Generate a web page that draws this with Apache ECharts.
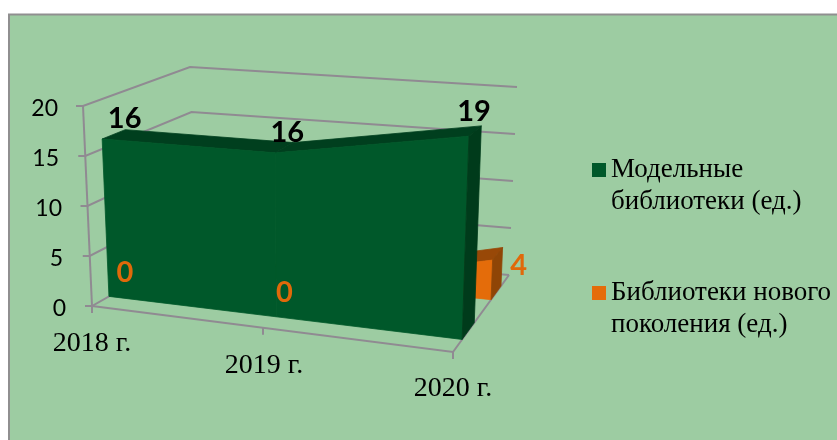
<!DOCTYPE html>
<html><head><meta charset="utf-8">
<style>html,body{margin:0;padding:0;background:#fff}#c{width:837px;height:440px}</style>
<script src="https://cdn.jsdelivr.net/npm/echarts@6/dist/echarts.min.js"></script>
</head><body><div id="c"></div>
<script>
var categories = ['2018 г.', '2019 г.', '2020 г.'];
var modelLibraries = [16, 16, 19];
var newGenLibraries = [0, 0, 4];
var yTicks = [0, 5, 10, 15, 20];
var nameModel = 'Модельные библиотеки (ед.)';
var nameNewGen = 'Библиотеки нового поколения (ед.)';

var legendLines = {};
legendLines[nameModel] = ' \nМодельные\nбиблиотеки (ед.)';
legendLines[nameNewGen] = ' \nБиблиотеки нового\nпоколения (ед.)';

// Camera: where the eight corners of the unit box land on the page (u, value, depth)
var box = {
  f0L: [92, 306], f1L: [83, 106], b0L: [196, 247], b1L: [190, 67],
  f0R: [453, 352], f1R: [460, 133], b0R: [509, 275], b1R: [517, 87]
};
var perspective = 0.9;
var greenBand = [0.163, 0.38];
var orangeBand = [0.68, 0.857];
var GREEN = {front: '#00582a', top: '#003f1e', side: '#003b1b'};
var ORANGE = {front: '#e46c0a', top: '#984807', side: '#8f4506'};
var LINE = '#908a92';

function lerp(a, b, t) { return [a[0] + (b[0] - a[0]) * t, a[1] + (b[1] - a[1]) * t]; }
function makeProject(params, api) {
  var s = params.coordSys;
  return function (cat, val, w) {
    var c = api.coord([cat, val]);
    var u0 = (c[0] - s.x) / s.width, v = (s.y + s.height - c[1]) / s.height;
    var u = perspective * u0 / (1 + (perspective - 1) * u0);
    var front = lerp(lerp(box.f0L, box.f1L, v), lerp(box.f0R, box.f1R, v), u);
    var back = lerp(lerp(box.b0L, box.b1L, v), lerp(box.b0R, box.b1R, v), u);
    return lerp(front, back, w);
  };
}
function poly(points, color) {
  return {type: 'polygon', shape: {points: points},
    style: {fill: color, stroke: color, lineWidth: 0.8}};
}
function line(points) {
  return {type: 'polyline', shape: {points: points},
    style: {fill: 'none', stroke: LINE, lineWidth: 2}};
}
function areaRenderer(values, band, colors) {
  return function (params, api) {
    var p = makeProject(params, api), i = api.value(0), v = api.value(1), kids = [];
    var last = values.length - 1;
    if (i < last) {
      var n = values[i + 1];
      kids.push(poly([p(i, v, band[1]), p(i + 1, n, band[1]), p(i + 1, n, band[0]), p(i, v, band[0])], colors.top));
      kids.push(poly([p(i, v, band[0]), p(i + 1, n, band[0]), p(i + 1, 0, band[0]), p(i, 0, band[0])], colors.front));
    } else {
      kids.push(poly([p(i, v, band[0]), p(i, v, band[1]), p(i, 0, band[1]), p(i, 0, band[0])], colors.side));
    }
    return {type: 'group', children: kids};
  };
}
function wallRenderer(params, api) {
  var p = makeProject(params, api), v = api.value(1), last = categories.length - 1, kids = [];
  var a = p(0, v, 0);
  kids.push(line([[a[0] - 7, a[1]], a, p(0, v, 1), p(last, v, 1)]));
  if (v === 0) {
    kids.push(line([p(0, 0, 0), p(0, yTicks[yTicks.length - 1], 0)]));
    kids.push(line([p(0, 0, 0), p(last, 0, 0), p(last, 0, 1)]));
    categories.forEach(function (c, i) {
      var t = p(i, 0, 0);
      kids.push(line([t, [t[0], t[1] + 7]]));
    });
  }
  return {type: 'group', children: kids};
}
var labelOffsets = {
  model: [[11, -16], [3, -15], [-1, -19]],
  newGen: [[-47, 12], [-41, 17], [21, 12]]
};
function labelRenderer(band, color, offsets, fontSize) {
  return function (params, api) {
    var p = makeProject(params, api), i = api.value(0), v = api.value(1);
    var q = p(i, v, (band[0] + band[1]) / 2), o = offsets[i];
    return {type: 'text', style: {
      x: q[0] + o[0], y: q[1] + o[1], text: String(v), fill: color,
      font: 'bold ' + fontSize + 'px Lato', align: 'center', verticalAlign: 'middle'}};
  };
}
function pairs(values) { return values.map(function (v, i) { return [i, v]; }); }

var yPad = {0: 0, 5: 3, 10: 4, 15: 7, 20: 8};
var yRich = {};
yTicks.forEach(function (t) { yRich['p' + t] = {fontFamily: 'Lato', fontSize: 23, color: '#000', padding: [6, yPad[t], 0, 0]}; });
var xRich = {
  c0: {padding: [0, 0, 0, 0]},
  c1: {padding: [22, 17, 0, 0]},
  c2: {padding: [45, 0, 0, 0]}
};
Object.keys(xRich).forEach(function (k) {
  xRich[k].fontFamily = 'Liberation Serif'; xRich[k].fontSize = 28; xRich[k].color = '#000';
});

var chart = echarts.init(document.getElementById('c'), null, {renderer: 'canvas'});
chart.setOption({
  animation: false,
  backgroundColor: '#ffffff',
  graphic: [{type: 'rect', z: -10, silent: true,
    shape: {x: 9, y: 14.5, width: 840, height: 440},
    style: {fill: '#9dcca2', stroke: '#908f90', lineWidth: 2}}],
  grid: {left: 92, right: 384, top: 106, bottom: 134, containLabel: false},
  legend: {
    data: [nameModel, nameNewGen], orient: 'vertical', left: 592, top: 122, padding: 0,
    itemWidth: 14, itemHeight: 14, itemGap: 27, icon: 'rect', selectedMode: false,
    formatter: function (n) { return legendLines[n]; },
    textStyle: {fontFamily: 'Liberation Serif', fontSize: 27, lineHeight: 32, color: '#000'}
  },
  xAxis: {
    type: 'category', data: categories, boundaryGap: false,
    axisLine: {show: false}, axisTick: {show: false}, splitLine: {show: false},
    axisLabel: {interval: 0, margin: 24, verticalAlign: 'top',
      formatter: function (v, i) { return '{c' + i + '|' + v + '}'; }, rich: xRich}
  },
  yAxis: {
    type: 'value', min: 0, max: 20, interval: 5,
    axisLine: {show: false}, axisTick: {show: false}, splitLine: {show: false},
    axisLabel: {margin: 26, formatter: function (v) { return '{p' + v + '|' + v + '}'; }, rich: yRich}
  },
  series: [
    {type: 'custom', name: 'walls', z: 1, silent: true, clip: false, data: yTicks.map(function (t) { return [0, t]; }), renderItem: wallRenderer},
    {type: 'custom', name: nameNewGen, z: 2, silent: true, clip: false, itemStyle: {color: ORANGE.front}, data: pairs(newGenLibraries), renderItem: areaRenderer(newGenLibraries, orangeBand, ORANGE)},
    {type: 'custom', name: nameModel, z: 3, silent: true, clip: false, itemStyle: {color: GREEN.front}, data: pairs(modelLibraries), renderItem: areaRenderer(modelLibraries, greenBand, GREEN)},
    {type: 'custom', name: 'labelsNewGen', z: 4, silent: true, clip: false, data: pairs(newGenLibraries), renderItem: labelRenderer(orangeBand, '#e0690a', labelOffsets.newGen, 29)},
    {type: 'custom', name: 'labelsModel', z: 4, silent: true, clip: false, data: pairs(modelLibraries), renderItem: labelRenderer(greenBand, '#000', labelOffsets.model, 29)}
  ]
});
</script></body></html>
